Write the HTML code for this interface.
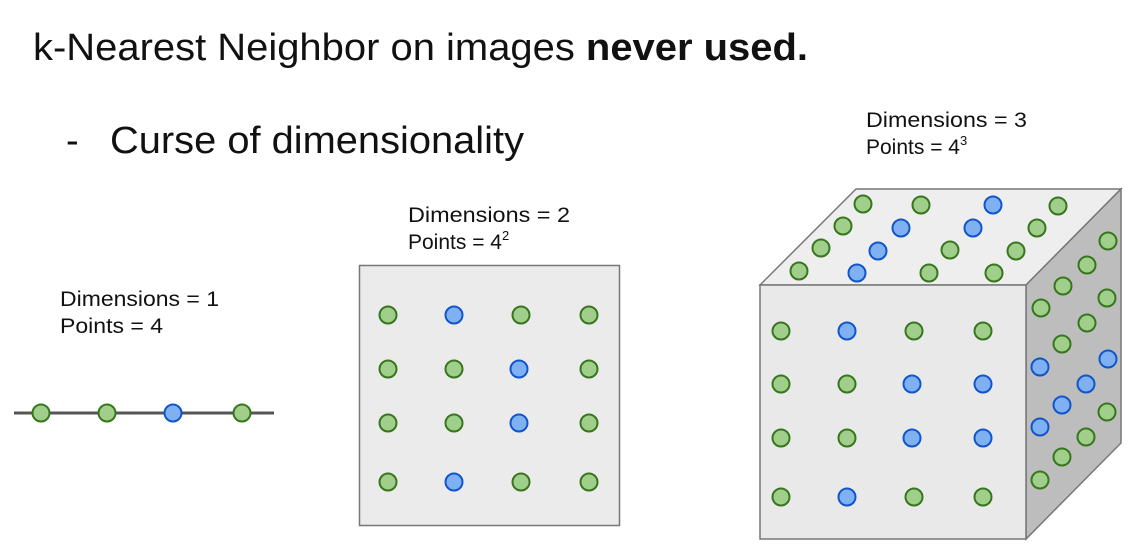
<!DOCTYPE html>
<html><head><meta charset="utf-8"><style>
html,body{margin:0;padding:0;background:#fff;width:1130px;height:548px;overflow:hidden}
text{font-family:"Liberation Sans",Arial,sans-serif;fill:#111}
</style></head><body>
<svg width="1130" height="548" viewBox="0 0 1130 548" xmlns="http://www.w3.org/2000/svg">
<defs>
<g id="g"><circle r="8.5" fill="#9fcf8a" stroke="#38761d" stroke-width="2"/></g>
<g id="b"><circle r="8.5" fill="#7fb0f2" stroke="#1155cc" stroke-width="2"/></g>
</defs>
<text x="33" y="60" font-size="38" textLength="775" lengthAdjust="spacingAndGlyphs">k-Nearest Neighbor on images <tspan font-weight="bold">never used.</tspan></text>
<text x="66" y="153" font-size="38">-</text>
<text x="110" y="153" font-size="38" textLength="414" lengthAdjust="spacingAndGlyphs">Curse of dimensionality</text>

<text x="60" y="306" font-size="21" textLength="159" lengthAdjust="spacingAndGlyphs">Dimensions = 1</text>
<text x="60" y="333" font-size="21" textLength="103" lengthAdjust="spacingAndGlyphs">Points = 4</text>
<text x="408" y="222" font-size="21" textLength="162" lengthAdjust="spacingAndGlyphs">Dimensions = 2</text>
<text x="408" y="249" font-size="21">Points = 4<tspan font-size="13" dy="-9">2</tspan></text>
<text x="866" y="127" font-size="21" textLength="161" lengthAdjust="spacingAndGlyphs">Dimensions = 3</text>
<text x="866" y="154" font-size="21">Points = 4<tspan font-size="13" dy="-9">3</tspan></text>

<line x1="14" y1="413" x2="274" y2="413" stroke="#555" stroke-width="3"/>
<use href="#g" x="41" y="413"/><use href="#g" x="107" y="413"/><use href="#b" x="173" y="413"/><use href="#g" x="242" y="413"/>

<rect x="359.5" y="265.5" width="260" height="260" fill="#ebebeb" stroke="#777" stroke-width="1.5"/>
<use href="#g" x="388" y="315"/><use href="#b" x="454" y="315"/><use href="#g" x="521" y="315"/><use href="#g" x="589" y="315"/>
<use href="#g" x="388" y="369"/><use href="#g" x="454" y="369"/><use href="#b" x="519" y="369"/><use href="#g" x="589" y="369"/>
<use href="#g" x="388" y="423"/><use href="#g" x="454" y="423"/><use href="#b" x="519" y="423"/><use href="#g" x="589" y="423"/>
<use href="#g" x="388" y="482"/><use href="#b" x="454" y="482"/><use href="#g" x="521" y="482"/><use href="#g" x="589" y="482"/>

<polygon points="760,285 856,189 1121,189 1026,285" fill="#eeeeee" stroke="#777" stroke-width="1.5"/>
<polygon points="1026,285 1121,189 1121,443 1026,539" fill="#bdbdbd" stroke="#777" stroke-width="1.5"/>
<rect x="760" y="285" width="266" height="254" fill="#e9e9e9" stroke="#777" stroke-width="1.5"/>
<g>
<use href="#g" x="863" y="204"/><use href="#g" x="921" y="205"/><use href="#b" x="993" y="205"/><use href="#g" x="1058" y="206"/>
<use href="#g" x="843" y="226"/><use href="#b" x="901" y="228"/><use href="#b" x="973" y="228"/><use href="#g" x="1037" y="228"/>
<use href="#g" x="821" y="248"/><use href="#b" x="878" y="251"/><use href="#g" x="950" y="250"/><use href="#g" x="1016" y="251"/>
<use href="#g" x="799" y="271"/><use href="#b" x="857" y="273"/><use href="#g" x="929" y="273"/><use href="#g" x="994" y="273"/>

<use href="#g" x="781" y="331"/><use href="#b" x="847" y="331"/><use href="#g" x="914" y="331"/><use href="#g" x="983" y="331"/>
<use href="#g" x="781" y="384"/><use href="#g" x="847" y="384"/><use href="#b" x="912" y="384"/><use href="#b" x="983" y="384"/>
<use href="#g" x="781" y="438"/><use href="#g" x="847" y="438"/><use href="#b" x="912" y="438"/><use href="#b" x="983" y="438"/>
<use href="#g" x="781" y="497"/><use href="#b" x="847" y="497"/><use href="#g" x="914" y="497"/><use href="#g" x="983" y="497"/>

<use href="#g" x="1108" y="241"/><use href="#g" x="1087" y="265"/><use href="#g" x="1063" y="286"/><use href="#g" x="1041" y="308"/>
<use href="#g" x="1107" y="298"/><use href="#g" x="1087" y="323"/><use href="#g" x="1062" y="344"/><use href="#b" x="1040" y="367"/>
<use href="#b" x="1108" y="359"/><use href="#b" x="1086" y="384"/><use href="#b" x="1062" y="405"/><use href="#b" x="1040" y="427"/>
<use href="#g" x="1107" y="412"/><use href="#g" x="1086" y="437"/><use href="#g" x="1062" y="457"/><use href="#g" x="1040" y="480"/>
</g>
</svg>
</body></html>
